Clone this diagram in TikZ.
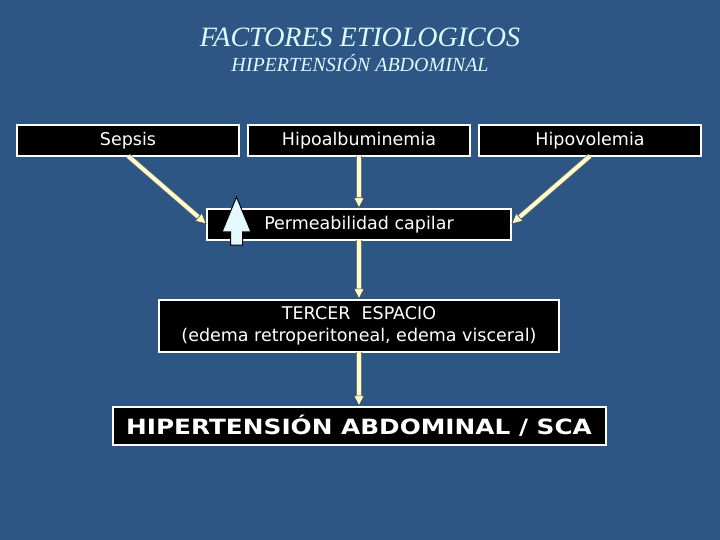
\documentclass[tikz,border=0pt]{standalone}
\usepackage{fontspec}
\newfontfamily\boxfont{DejaVu Sans}
\newfontfamily\wideboxfont[FakeStretch=1.18]{DejaVu Sans}
\newfontfamily\titlefont{Liberation Serif}
\usetikzlibrary{positioning, arrows.meta}
\definecolor{slidebg}{HTML}{2D5685}
\definecolor{titletext}{HTML}{DDFBFF}
\definecolor{arrowfill}{HTML}{FFFFCC}
\definecolor{uparrowfill}{HTML}{E4F8FF}
\tikzset{
  factor/.style={
    draw=white,
    fill=black,
    text=white,
    line width=2pt,
    outer sep=0pt,
    align=center,
    inner sep=0pt,
    font=\boxfont\fontsize{17.5}{22.5}\selectfont,
    minimum height=31pt,
  },
  arr/.style={
    -{Triangle[length=11pt, width=11pt, fill=arrowfill, color=black!70, line width=0.6pt]},
    draw=arrowfill,
    line width=4pt,
    shorten >=0.5pt,
    preaction={draw=black!55, line width=5.4pt, arrows=-, shorten >=9pt},
  },
}

\begin{document}
\begin{tikzpicture}[x=1pt, y=-1pt]
\useasboundingbox[fill=slidebg] (0,0) rectangle (720,540);

% Titles
\node[text=titletext, anchor=base, font=\titlefont\itshape\fontsize{28}{32}\selectfont] (title) at (360,47) {FACTORES ETIOLOGICOS};
\node[text=titletext, anchor=base, font=\titlefont\itshape\fontsize{20}{24}\selectfont] (subtitle) at (360,72) {HIPERTENSIÓN ABDOMINAL};

% Top row: causes
\node[factor, minimum width=222pt] (sepsis) at (128,140.5) {Sepsis};
\node[factor, minimum width=222pt, right=9pt of sepsis] (hipoalb) {Hipoalbuminemia};
\node[factor, minimum width=222pt, right=9pt of hipoalb] (hipovol) {Hipovolemia};

% Chain down the middle
\node[factor, minimum width=304pt, below=53pt of hipoalb] (perm) {Permeabilidad capilar};
\node[factor, minimum width=400pt, minimum height=52pt, below=60pt of perm] (tercer) {TERCER\ \ ESPACIO\\(edema retroperitoneal, edema visceral)};
\node[factor, minimum width=493pt, minimum height=38pt, below=55pt of tercer,
  font=\wideboxfont\bfseries\fontsize{21}{24}\selectfont] (hia) {HIPERTENSIÓN ABDOMINAL / SCA};

% Increase marker on Permeabilidad
\draw[fill=uparrowfill, draw=black, line width=1pt]
  (236.5,197) -- (251,232) -- (242.5,232) -- (242.5,245) -- (230.5,245) -- (230.5,232) -- (222,232) -- cycle;

% --- Flow arrows -------------------------------------------------------
\draw[arr] (sepsis.south) -- (perm.west);
\draw[arr] (hipovol.south) -- (perm.east);
\foreach \a/\b in {hipoalb/perm, perm/tercer, tercer/hia}
  {\draw[arr] (\a.south) -- (\b.north);}

\end{tikzpicture}
\end{document}
